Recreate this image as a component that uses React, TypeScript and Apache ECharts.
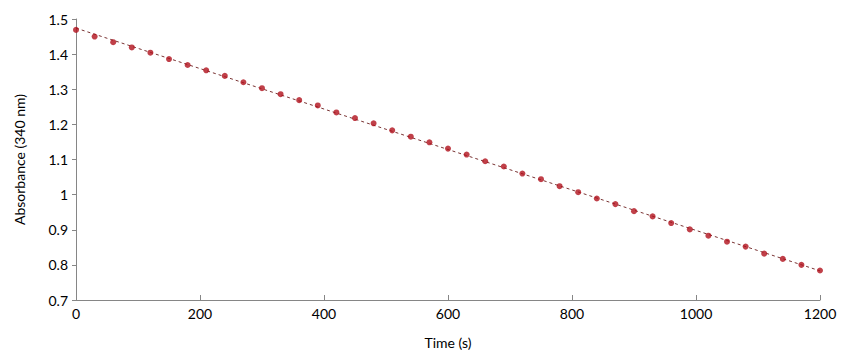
import React, { useEffect, useRef } from "react";
import * as echarts from "echarts";

const times = [0, 30, 60, 90, 120, 150, 180, 210, 240, 270, 300, 330, 360, 390, 420, 450, 480, 510, 540, 570, 600, 630, 660, 690, 720, 750, 780, 810, 840, 870, 900, 930, 960, 990, 1020, 1050, 1080, 1110, 1140, 1170, 1200];
const absorbance = [1.469, 1.450, 1.434, 1.419, 1.404, 1.386, 1.369, 1.354, 1.338, 1.320, 1.303, 1.286, 1.269, 1.254, 1.234, 1.218, 1.203, 1.183, 1.165, 1.149, 1.131, 1.114, 1.095, 1.080, 1.060, 1.044, 1.024, 1.007, 0.989, 0.973, 0.953, 0.938, 0.919, 0.901, 0.883, 0.866, 0.852, 0.832, 0.817, 0.800, 0.784];
const trendRange = [0, 1200];

function linearFit(xs: number[], ys: number[]) {
  const n = xs.length;
  const mx = xs.reduce((a, b) => a + b, 0) / n;
  const my = ys.reduce((a, b) => a + b, 0) / n;
  let sxy = 0, sxx = 0;
  for (let i = 0; i < n; i++) {
    sxy += (xs[i] - mx) * (ys[i] - my);
    sxx += (xs[i] - mx) ** 2;
  }
  const b = sxy / sxx;
  return { a: my - b * mx, b };
}

export default function App() {
  const ref = useRef<HTMLDivElement>(null);
  useEffect(() => {
    if (!ref.current) return;
    const chart = echarts.init(ref.current, undefined, { renderer: "svg" });
    const fit = linearFit(times, absorbance);
    const font = "Lato, 'Open Sans', sans-serif";
    chart.setOption({
      animation: false,
      backgroundColor: "#ffffff",
      grid: { left: 76, right: 48, top: 19, bottom: 61 },
      xAxis: {
        type: "value",
        min: 0,
        max: 1200,
        interval: 200,
        name: "Time (s)",
        nameLocation: "middle",
        nameGap: 35,
        nameTextStyle: { color: "#000", fontSize: 14, fontFamily: font },
        axisLine: { lineStyle: { color: "#868686", width: 1 } },
        axisTick: { show: true, inside: true, length: 5, lineStyle: { color: "#868686" } },
        axisLabel: {
          color: "#000",
          fontSize: 14,
          fontFamily: font,
          margin: 6,
          formatter: (v: number) => String(v),
        },
        splitLine: { show: false },
      },
      yAxis: {
        type: "value",
        min: 0.7,
        max: 1.5,
        interval: 0.1,
        name: "Absorbance (340 nm)",
        nameLocation: "middle",
        nameGap: 50,
        nameRotate: 90,
        nameTextStyle: { color: "#000", fontSize: 14, fontFamily: font },
        axisLine: { show: true, lineStyle: { color: "#868686", width: 1 } },
        axisTick: { show: true, length: 4, lineStyle: { color: "#868686" } },
        axisLabel: {
          color: "#000",
          fontSize: 14,
          fontFamily: font,
          margin: 8,
          formatter: (v: number) => String(Math.round(v * 10) / 10),
        },
        splitLine: { show: false },
      },
      series: [
        {
          type: "line",
          data: trendRange.map((t) => [t, fit.a + fit.b * t]),
          symbol: "none",
          lineStyle: { color: "#7a3434", width: 1, type: [3, 3] },
          silent: true,
          z: 1,
        },
        {
          type: "scatter",
          data: times.map((t, i) => [t, absorbance[i]]),
          symbol: "circle",
          symbolSize: 6,
          itemStyle: { color: "#b0101c" },
          z: 2,
        },
      ],
    });
    return () => chart.dispose();
  }, []);
  return <div ref={ref} style={{ width: 868, height: 361, position: "absolute", left: 0, top: 0 }} />;
}
